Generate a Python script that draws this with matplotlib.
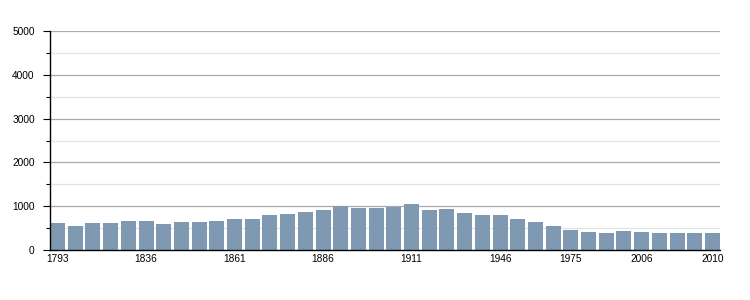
import matplotlib
matplotlib.use("Agg")
import matplotlib.pyplot as plt
import numpy as np
from matplotlib.ticker import MultipleLocator

years = [1793, 1800, 1806, 1821, 1831, 1836, 1841, 1846, 1851, 1856,
         1861, 1866, 1872, 1876, 1881, 1886, 1891, 1896, 1901, 1906,
         1911, 1921, 1926, 1931, 1936, 1946, 1954, 1962, 1968, 1975,
         1982, 1990, 1999, 2006, 2007, 2008, 2009, 2010]
population = [618, 550, 618, 618, 664, 664, 595, 641, 641, 664,
              710, 710, 802, 824, 870, 916, 1000, 962, 962, 985,
              1045, 909, 932, 841, 795, 795, 705, 636, 545, 455,
              409, 386, 432, 409, 386, 386, 386, 386]
shown_labels = [1793, 1836, 1861, 1886, 1911, 1946, 1975, 2006, 2010]

plt.rcParams['font.family'] = ['Liberation Sans', 'DejaVu Sans']

fig = plt.figure(figsize=(7.5, 3.0), dpi=100)
ax = fig.add_axes([50/750, 50/300, 670/750, 219/300])

x = np.arange(len(years))
w = 0.85
ax.bar(x, population, width=w, color='#7f99b3', zorder=3)

ax.set_xlim(-w/2, len(years) - 1 + w/2)
ax.set_ylim(0, 5000)
ax.yaxis.set_major_locator(MultipleLocator(1000))
ax.yaxis.set_minor_locator(MultipleLocator(500))
ax.grid(which='major', axis='y', color='#aaaaaa', linewidth=0.9, zorder=0)
ax.grid(which='minor', axis='y', color='#e2e2e2', linewidth=0.9, zorder=0)

idx = [years.index(y) for y in shown_labels]
ax.set_xticks(idx)
ax.set_xticklabels([str(y) for y in shown_labels])
ax.tick_params(axis='x', length=0, pad=3, labelsize=7.3)
ax.tick_params(axis='y', which='major', length=5, width=0.8, labelsize=7.3, pad=6)
ax.tick_params(axis='y', which='minor', length=3, width=0.8)

for s in ['top', 'right']:
    ax.spines[s].set_visible(False)
for s in ['left', 'bottom']:
    ax.spines[s].set_color('black')
    ax.spines[s].set_linewidth(1.0)
    ax.spines[s].set_zorder(4)

fig.savefig('out.png', dpi=100)
